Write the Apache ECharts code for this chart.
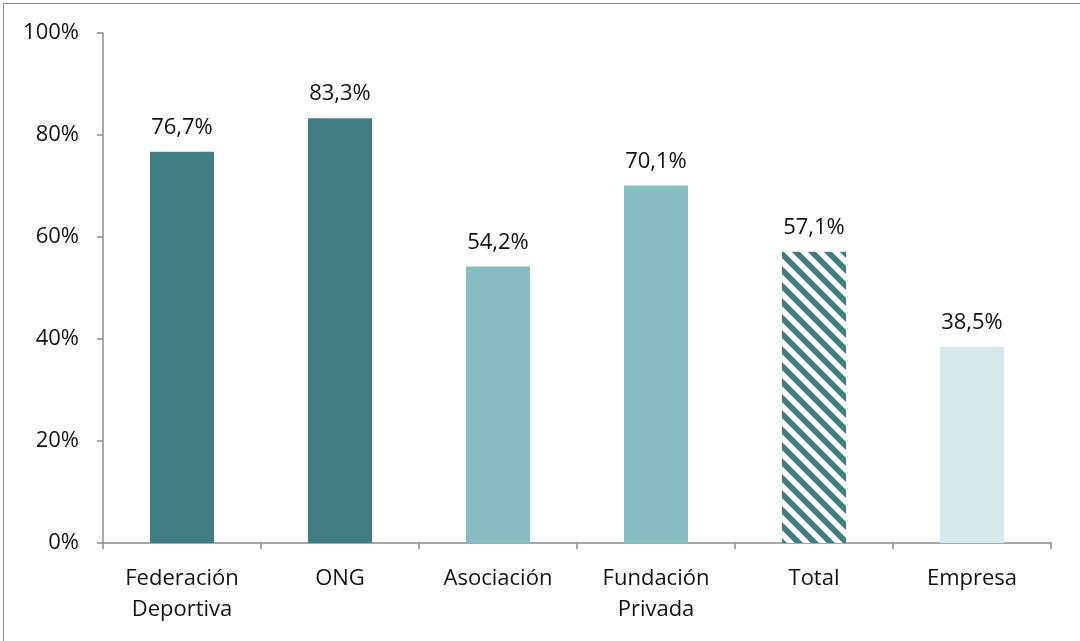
<!DOCTYPE html>
<html>
<head>
<meta charset="utf-8">
<script src="https://cdn.jsdelivr.net/npm/echarts@6/dist/echarts.min.js"></script>
<style>
  html, body { margin: 0; padding: 0; background: #fff; }
  #frame { position: absolute; left: 3px; top: 3px; width: 1200px; height: 800px; border: 1px solid #8c8c8c; box-sizing: border-box; }
  #chart { position: absolute; left: 0; top: 0; width: 1080px; height: 641px; }
</style>
</head>
<body>
<div id="frame"></div>
<div id="chart"></div>
<script>
const categories = ['Federación\nDeportiva', 'ONG', 'Asociación', 'Fundación\nPrivada', 'Total', 'Empresa'];
const values = [76.7, 83.3, 54.2, 70.1, 57.1, 38.5];
const colors = ['#427d82', '#427d82', '#85bdc1', '#85bdc1', 'stripes', '#d5e8ea'];
const yTicks = [0, 20, 40, 60, 80, 100];

// diagonal stripes for the Total bar
function stripePattern() {
  const s = 16;
  const c = document.createElement('canvas');
  c.width = s; c.height = s;
  const ctx = c.getContext('2d');
  ctx.fillStyle = '#ffffff';
  ctx.fillRect(0, 0, s, s);
  ctx.strokeStyle = '#427d82';
  ctx.lineWidth = 5.8;
  ctx.beginPath();
  for (let k = -1; k <= 1; k++) {
    ctx.moveTo(k * s - 4, -4);
    ctx.lineTo(k * s + s + 4, s + 4);
  }
  ctx.stroke();
  return { image: c, repeat: 'repeat' };
}

const chart = echarts.init(document.getElementById('chart'), null, { renderer: 'canvas' });
const font = '"Open Sans", "Noto Sans", sans-serif';
chart.setOption({
  animation: false,
  textStyle: { fontFamily: font },
  grid: { left: 103, right: 29, top: 33, bottom: 98 },
  xAxis: {
    type: 'category',
    data: categories,
    axisLine: { lineStyle: { color: '#8c8c8c', width: 1.5 } },
    axisTick: { show: true, length: 6, lineStyle: { color: '#8c8c8c', width: 1.5 } },
    axisLabel: { color: '#111', fontSize: 22, margin: 20, lineHeight: 31, fontFamily: font }
  },
  yAxis: {
    type: 'value',
    min: yTicks[0],
    max: yTicks[yTicks.length - 1],
    interval: 20,
    splitLine: { show: false },
    axisLine: { show: true, lineStyle: { color: '#8c8c8c', width: 1.5 } },
    axisTick: { show: true, length: 6, lineStyle: { color: '#8c8c8c', width: 1.5 } },
    axisLabel: { color: '#111', fontSize: 22, margin: 24, fontFamily: font, formatter: v => v + '%' }
  },
  series: [{
    type: 'bar',
    barWidth: 64,
    data: values.map((v, i) => ({
      value: v,
      itemStyle: { color: colors[i] === 'stripes' ? stripePattern() : colors[i] }
    })),
    label: {
      show: true,
      position: 'top',
      distance: 13,
      color: '#111',
      fontSize: 22,
      fontFamily: font,
      formatter: p => p.value.toFixed(1).replace('.', ',') + '%'
    }
  }]
});
</script>
</body>
</html>
